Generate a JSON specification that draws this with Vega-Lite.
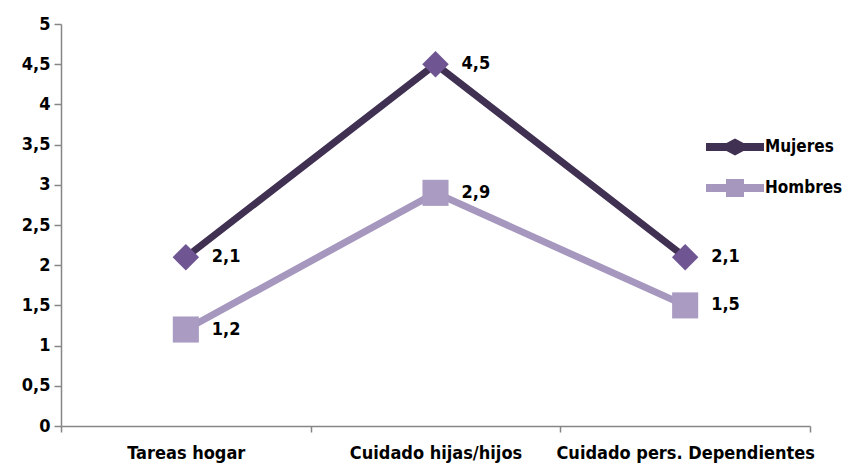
{
  "$schema": "https://vega.github.io/schema/vega-lite/v6.json",
  "width": 749,
  "height": 402,
  "autosize": "none",
  "padding": {"left": 61, "top": 24, "right": 44, "bottom": 45},
  "config": {
    "view": {"stroke": null},
    "font": "DejaVu Sans Condensed",
    "legend": {"labelFontSize": 17, "labelFontWeight": "bold", "labelColor": "#000000", "labelOffset": 20, "rowPadding": 22, "padding": 0, "symbolStrokeWidth": 0},
    "locale": {"number": {"decimal": ",", "thousands": ".", "grouping": [3], "currency": ["", " €"]}}
  },
  "data": {"values": [
    {"cat": "Tareas hogar", "serie": "Mujeres", "v": 2.1},
    {"cat": "Cuidado hijas/hijos", "serie": "Mujeres", "v": 4.5},
    {"cat": "Cuidado pers. Dependientes", "serie": "Mujeres", "v": 2.1},
    {"cat": "Tareas hogar", "serie": "Hombres", "v": 1.2},
    {"cat": "Cuidado hijas/hijos", "serie": "Hombres", "v": 2.9},
    {"cat": "Cuidado pers. Dependientes", "serie": "Hombres", "v": 1.5}
  ]},
  "encoding": {
    "x": {
      "field": "cat", "type": "nominal", "sort": null,
      "scale": {"paddingInner": 0, "paddingOuter": 0},
      "axis": {"title": null, "labelAngle": 0, "labelFontSize": 18, "labelFontWeight": "bold", "labelColor": "#000000", "labelLimit": 400,
               "domainColor": "#868686", "tickColor": "#868686", "tickSize": 6, "tickBand": "extent", "labelPadding": 12, "domainWidth": 1.5, "tickWidth": 1.5}
    },
    "y": {
      "field": "v", "type": "quantitative",
      "scale": {"domain": [0, 5], "nice": false},
      "axis": {"title": null, "values": [0, 0.5, 1, 1.5, 2, 2.5, 3, 3.5, 4, 4.5, 5], "format": "~g", "grid": false,
               "labelFontSize": 18, "labelFontWeight": "bold", "labelColor": "#000000", "domainColor": "#868686", "tickColor": "#868686",
               "tickSize": 7, "labelPadding": 4, "domainWidth": 1.5, "tickWidth": 1.5}
    }
  },
  "layer": [
    {
      "mark": {"type": "line", "strokeWidth": 7},
      "encoding": {
        "color": {"field": "serie", "type": "nominal", "legend": null, "scale": {"range": ["#A597BE", "#403152"]}}
      }
    },
    {
      "mark": {"type": "point", "filled": true, "opacity": 0.01},
      "encoding": {
        "shape": {"field": "serie", "type": "nominal", "title": null,
          "scale": {"domain": ["Mujeres", "Hombres"], "range": [
            "M-2.9,-0.4 L-0.85,-0.4 L0,-0.85 L0.85,-0.4 L2.9,-0.4 L2.9,0.4 L0.85,0.4 L0,0.85 L-0.85,0.4 L-2.9,0.4 Z",
            "M-2.9,-0.4 L-0.9,-0.4 L-0.9,-0.9 L0.9,-0.9 L0.9,-0.4 L2.9,-0.4 L2.9,0.4 L0.9,0.4 L0.9,0.9 L-0.9,0.9 L-0.9,0.4 L-2.9,0.4 Z"
          ]},
          "legend": {"orient": "none", "legendX": 664, "legendY": 113, "symbolSize": 400, "symbolOpacity": 1}
        },
        "fill": {"field": "serie", "type": "nominal", "title": null,
          "scale": {"domain": ["Mujeres", "Hombres"], "range": ["#403152", "#A597BE"]}}
      }
    },
    {
      "transform": [{"filter": "datum.serie == 'Mujeres'"}],
      "mark": {"type": "point", "shape": "diamond", "filled": true, "size": 700, "opacity": 1, "color": "#6F5592"}
    },
    {
      "transform": [{"filter": "datum.serie == 'Hombres'"}],
      "mark": {"type": "point", "shape": "square", "filled": true, "size": 680, "opacity": 1, "color": "#A99BC2"}
    },
    {
      "mark": {"type": "text", "align": "left", "dx": 26, "fontSize": 18, "fontWeight": "bold", "color": "#000000"},
      "encoding": {"text": {"field": "v", "type": "quantitative", "format": ".1f"}}
    }
  ],
  "resolve": {"scale": {"color": "independent"}}
}
